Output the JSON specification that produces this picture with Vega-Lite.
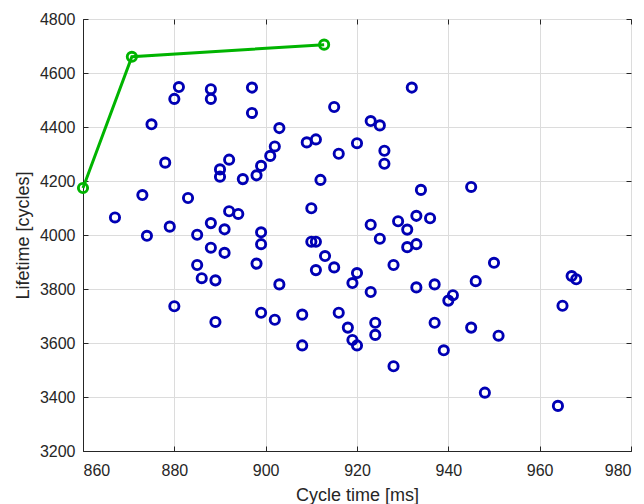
{
  "$schema": "https://vega.github.io/schema/vega-lite/v6.json",
  "autosize": {"type": "none"},
  "padding": {"left": 83, "top": 19, "right": 13, "bottom": 53},
  "width": 548,
  "height": 432,
  "background": "white",
  "config": {
    "view": {"stroke": "#262626", "strokeWidth": 1},
    "font": "Liberation Sans",
    "axis": {
      "domainColor": "#262626",
      "tickColor": "#262626",
      "labelColor": "#262626",
      "titleColor": "#262626",
      "labelFont": "Liberation Sans",
      "titleFont": "Liberation Sans",
      "labelFontSize": 16,
      "titleFontSize": 18,
      "titleFontWeight": "normal",
      "gridColor": "#dcdcdc",
      "gridOpacity": 1,
      "tickSize": -5,
      "labelPadding": 16,
      "format": "d"
    }
  },
  "datasets": {
    "pts": [
      {"t": 867, "life": 4065}, {"t": 873, "life": 4148}, {"t": 874, "life": 3997}, {"t": 875, "life": 4410},
      {"t": 878, "life": 4268}, {"t": 879, "life": 4031}, {"t": 880, "life": 4504}, {"t": 881, "life": 4548},
      {"t": 883, "life": 4137}, {"t": 885, "life": 4001}, {"t": 888, "life": 4044}, {"t": 888, "life": 4504},
      {"t": 888, "life": 4540}, {"t": 888, "life": 3953}, {"t": 890, "life": 4243}, {"t": 890, "life": 4216},
      {"t": 891, "life": 4021}, {"t": 892, "life": 4279}, {"t": 892, "life": 4088}, {"t": 894, "life": 4078},
      {"t": 895, "life": 4207}, {"t": 897, "life": 4546}, {"t": 897, "life": 4452}, {"t": 898, "life": 4221},
      {"t": 899, "life": 4256}, {"t": 899, "life": 4010}, {"t": 899, "life": 3966}, {"t": 901, "life": 4293},
      {"t": 902, "life": 4328}, {"t": 903, "life": 4396}, {"t": 909, "life": 4343}, {"t": 911, "life": 4354},
      {"t": 915, "life": 4474}, {"t": 916, "life": 4301}, {"t": 912, "life": 4204}, {"t": 910, "life": 4099},
      {"t": 910, "life": 3975}, {"t": 911, "life": 3975}, {"t": 920, "life": 4340}, {"t": 932, "life": 4546},
      {"t": 923, "life": 4422}, {"t": 925, "life": 4406}, {"t": 926, "life": 4312}, {"t": 926, "life": 4264},
      {"t": 934, "life": 4167}, {"t": 945, "life": 4178}, {"t": 923, "life": 4038}, {"t": 929, "life": 4051},
      {"t": 931, "life": 4020}, {"t": 933, "life": 4071}, {"t": 936, "life": 4062}, {"t": 925, "life": 3986},
      {"t": 931, "life": 3955}, {"t": 933, "life": 3966}, {"t": 891, "life": 3934}, {"t": 885, "life": 3889},
      {"t": 886, "life": 3840}, {"t": 889, "life": 3832}, {"t": 898, "life": 3894}, {"t": 880, "life": 3736},
      {"t": 889, "life": 3678}, {"t": 899, "life": 3712}, {"t": 902, "life": 3686}, {"t": 903, "life": 3817},
      {"t": 908, "life": 3705}, {"t": 908, "life": 3591}, {"t": 913, "life": 3922}, {"t": 911, "life": 3870},
      {"t": 915, "life": 3880}, {"t": 916, "life": 3712}, {"t": 918, "life": 3657}, {"t": 919, "life": 3611},
      {"t": 920, "life": 3591}, {"t": 919, "life": 3822}, {"t": 920, "life": 3859}, {"t": 928, "life": 3889},
      {"t": 923, "life": 3789}, {"t": 933, "life": 3806}, {"t": 937, "life": 3817}, {"t": 950, "life": 3897},
      {"t": 946, "life": 3829}, {"t": 941, "life": 3777}, {"t": 940, "life": 3757}, {"t": 924, "life": 3675},
      {"t": 924, "life": 3630}, {"t": 937, "life": 3675}, {"t": 945, "life": 3657}, {"t": 951, "life": 3627},
      {"t": 939, "life": 3573}, {"t": 928, "life": 3514}, {"t": 948, "life": 3416}, {"t": 964, "life": 3367},
      {"t": 965, "life": 3738}, {"t": 967, "life": 3848}, {"t": 968, "life": 3836}
    ],
    "front": [
      {"t": 860, "life": 4174, "ord": 1},
      {"t": 870.7, "life": 4660, "ord": 2},
      {"t": 912.8, "life": 4705, "ord": 3}
    ]
  },
  "layer": [
    {
      "data": {"name": "pts"},
      "mark": {"type": "point", "shape": "circle", "filled": false, "color": "#0000b4", "strokeWidth": 2.9, "size": 85, "opacity": 1},
      "encoding": {
        "x": {"field": "t", "type": "quantitative", "scale": {"domain": [860, 980], "nice": false, "zero": false},
          "axis": {"title": "Cycle time [ms]", "values": [860, 880, 900, 920, 940, 960, 980], "titlePadding": 8, "orient": "bottom"}},
        "y": {"field": "life", "type": "quantitative", "scale": {"domain": [3200, 4800], "nice": false, "zero": false},
          "axis": {"title": "Lifetime [cycles]", "values": [3200, 3400, 3600, 3800, 4000, 4200, 4400, 4600, 4800], "labelPadding": 13, "titlePadding": 7, "orient": "left"}}
      }
    },
    {
      "data": {"name": "front"},
      "mark": {"type": "line", "color": "#00b400", "strokeWidth": 3, "point": {"shape": "circle", "filled": false, "color": "#00b400", "strokeWidth": 2.9, "size": 85}},
      "encoding": {
        "x": {"field": "t", "type": "quantitative", "scale": {"domain": [860, 980], "nice": false, "zero": false},
          "axis": {"orient": "top", "labels": false, "title": null, "grid": false, "domain": false, "values": [860, 880, 900, 920, 940, 960, 980]}},
        "y": {"field": "life", "type": "quantitative", "scale": {"domain": [3200, 4800], "nice": false, "zero": false},
          "axis": {"orient": "right", "labels": false, "title": null, "grid": false, "domain": false, "values": [3200, 3400, 3600, 3800, 4000, 4200, 4400, 4600, 4800]}},
        "order": {"field": "ord", "type": "quantitative"}
      }
    }
  ],
  "resolve": {"axis": {"x": "independent", "y": "independent"}}
}
